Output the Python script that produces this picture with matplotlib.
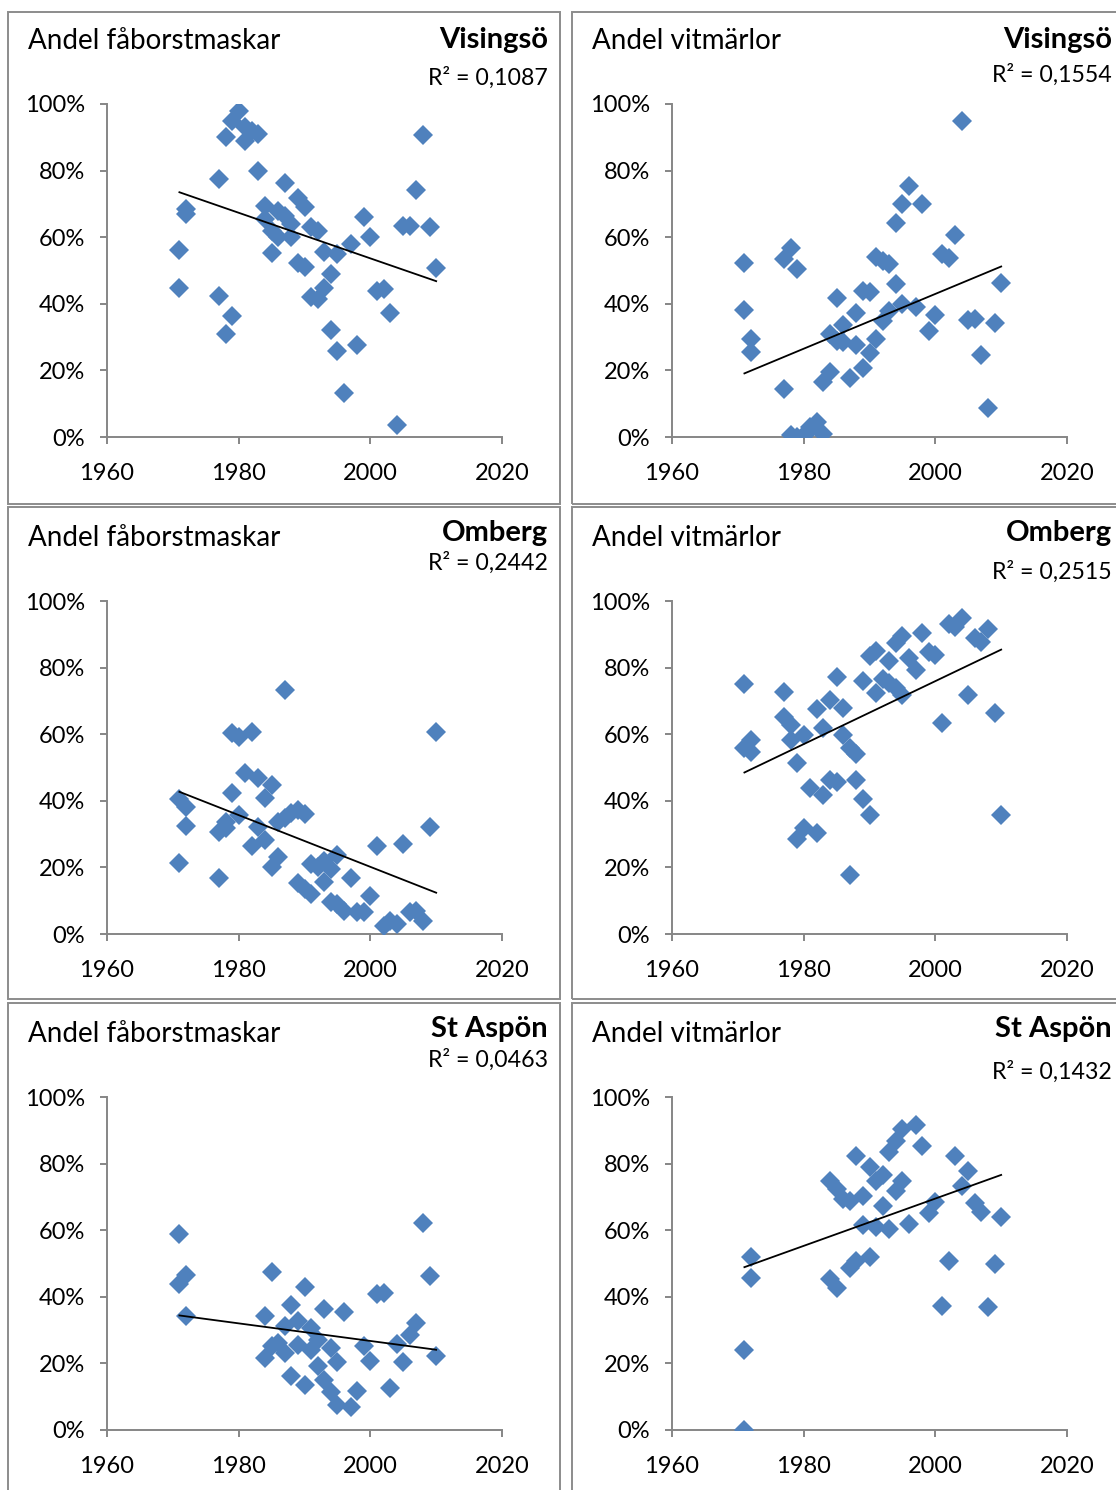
import numpy as np
import matplotlib
matplotlib.use('Agg')
import matplotlib.pyplot as plt
from matplotlib.patches import Rectangle

plt.rcParams['font.family'] = ['Lato', 'DejaVu Sans']

#%% DATOS
# Visingsö - fåborstmaskar
vis_fab_ar = [1971, 1971, 1972, 1972, 1977, 1977, 1978, 1978, 1979, 1979, 1980, 1981, 1981, 1982,
              1983, 1983, 1984, 1984, 1985, 1985, 1986, 1986, 1987, 1987, 1988, 1988, 1989, 1989,
              1990, 1990, 1991, 1991, 1992, 1992, 1993, 1993, 1994, 1994, 1995, 1995, 1996, 1997,
              1998, 1999, 2000, 2001, 2002, 2003, 2004, 2005, 2006, 2007, 2008, 2009, 2010]
vis_fab = [56.3, 44.8, 68.5, 67.0, 77.6, 42.2, 90.0, 30.9, 95.0, 36.3, 98.0, 89.0, 93.0, 92.0,
           91.0, 80.0, 69.5, 65.5, 62.0, 55.4, 68.0, 60.0, 76.2, 66.5, 64.0, 60.0, 71.8, 52.4,
           69.0, 51.0, 63.0, 42.0, 62.0, 41.3, 55.6, 44.8, 48.8, 32.2, 55.0, 25.9, 13.3, 57.9,
           27.5, 66.0, 60.2, 43.8, 44.3, 37.3, 3.5, 63.4, 63.4, 74.2, 90.8, 63.0, 50.9]

# Visingsö - vitmärlor
vis_vit_ar = [1971, 1971, 1972, 1972, 1977, 1977, 1978, 1978, 1979, 1979, 1980, 1981, 1981, 1982,
              1983, 1983, 1984, 1984, 1985, 1985, 1986, 1986, 1987, 1988, 1988, 1989, 1989, 1990,
              1990, 1991, 1991, 1992, 1992, 1993, 1993, 1994, 1994, 1995, 1995, 1996, 1997, 1998,
              1999, 2000, 2001, 2002, 2003, 2004, 2005, 2006, 2007, 2008, 2009, 2010]
vis_vit = [52.2, 38.0, 29.5, 25.5, 53.4, 14.4, 56.9, 0.5, 50.6, 0.0, 0.5, 2.0, 3.0, 4.5,
           1.0, 16.4, 30.9, 19.4, 41.8, 28.7, 33.7, 28.5, 17.8, 37.3, 27.7, 43.8, 20.8, 43.5,
           25.2, 54.2, 29.5, 52.9, 34.7, 52.0, 37.8, 64.2, 45.8, 70.0, 39.8, 75.5, 39.0, 70.0,
           31.9, 36.5, 54.9, 53.9, 60.6, 94.9, 35.2, 35.4, 24.7, 8.6, 34.2, 46.1]

# Omberg - fåborstmaskar
omb_fab_ar = [1971, 1971, 1972, 1972, 1977, 1977, 1978, 1978, 1979, 1979, 1980, 1980, 1981, 1982,
              1982, 1983, 1983, 1984, 1984, 1985, 1985, 1986, 1986, 1987, 1987, 1988, 1989, 1989,
              1990, 1990, 1991, 1991, 1992, 1993, 1993, 1994, 1994, 1995, 1995, 1996, 1997, 1998,
              1999, 2000, 2001, 2002, 2003, 2004, 2005, 2006, 2007, 2008, 2009, 2010]
omb_fab = [40.5, 21.4, 38.2, 32.4, 30.7, 16.9, 33.7, 31.7, 60.3, 42.2, 59.3, 35.7, 48.2, 60.8,
           26.4, 46.7, 32.2, 40.7, 28.1, 44.7, 20.1, 33.7, 23.1, 73.4, 34.7, 36.2, 37.2, 15.3,
           35.9, 13.6, 21.1, 12.1, 20.1, 21.8, 15.6, 19.6, 9.7, 23.8, 9.0, 7.0, 16.9, 6.5,
           6.5, 11.4, 26.4, 2.5, 4.0, 3.0, 27.1, 6.5, 7.0, 4.0, 32.2, 60.8]

# Omberg - vitmärlor
omb_vit_ar = [1971, 1971, 1972, 1972, 1977, 1977, 1978, 1978, 1979, 1979, 1980, 1980, 1981, 1982,
              1982, 1983, 1983, 1984, 1984, 1985, 1985, 1986, 1986, 1987, 1987, 1988, 1988, 1989,
              1989, 1990, 1990, 1991, 1991, 1992, 1993, 1993, 1994, 1994, 1995, 1995, 1996, 1997,
              1998, 1999, 2000, 2001, 2002, 2003, 2004, 2005, 2006, 2007, 2008, 2009, 2010]
omb_vit = [75.2, 56.0, 58.3, 54.8, 72.7, 65.3, 62.8, 58.3, 51.3, 28.6, 59.8, 31.7, 43.7, 67.6,
           30.2, 61.8, 41.7, 70.2, 46.2, 77.1, 45.7, 68.0, 59.8, 56.0, 17.8, 54.0, 46.2, 75.9,
           40.5, 83.4, 35.7, 84.9, 72.4, 76.7, 82.1, 75.4, 87.4, 73.9, 89.4, 71.9, 82.9, 79.4,
           90.5, 84.7, 83.9, 63.3, 93.2, 92.2, 94.8, 71.9, 88.9, 87.7, 91.5, 66.3, 35.7]

# St Aspön - fåborstmaskar
asp_fab_ar = [1971, 1971, 1972, 1972, 1984, 1984, 1985, 1985, 1986, 1987, 1987, 1988, 1988, 1989,
              1989, 1990, 1990, 1991, 1991, 1992, 1992, 1993, 1993, 1994, 1994, 1995, 1995, 1996,
              1997, 1998, 1999, 2000, 2001, 2002, 2003, 2004, 2005, 2006, 2007, 2008, 2009, 2010]
asp_fab = [58.8, 43.7, 46.4, 34.2, 34.2, 21.6, 47.4, 25.1, 26.1, 31.2, 23.1, 37.4, 16.1, 32.7,
           25.6, 42.9, 13.6, 30.7, 24.1, 27.1, 19.3, 36.2, 15.1, 24.6, 11.3, 20.3, 7.5, 35.4,
           6.8, 11.6, 25.1, 20.6, 40.7, 41.2, 12.6, 25.9, 20.3, 28.6, 32.0, 62.1, 46.2, 22.1]

# St Aspön - vitmärlor
asp_vit_ar = [1971, 1971, 1972, 1972, 1984, 1984, 1985, 1985, 1986, 1987, 1987, 1988, 1988, 1989,
              1989, 1990, 1990, 1991, 1991, 1992, 1992, 1993, 1993, 1994, 1994, 1995, 1995, 1996,
              1997, 1998, 1999, 2000, 2001, 2002, 2003, 2004, 2005, 2006, 2007, 2008, 2009, 2010]
asp_vit = [23.9, 0.0, 52.1, 45.5, 74.9, 45.4, 72.4, 42.7, 69.3, 68.8, 48.7, 82.4, 50.8, 70.4,
           61.5, 79.0, 52.0, 74.9, 61.0, 76.6, 67.3, 83.4, 60.3, 86.9, 71.9, 90.5, 74.7, 61.8,
           91.7, 85.4, 65.1, 68.5, 37.2, 50.7, 82.4, 73.2, 77.9, 68.3, 65.5, 37.0, 49.7, 64.0]

lokaler = ['Visingsö', 'Omberg', 'St Aspön']
grupper = ['Andel fåborstmaskar', 'Andel vitmärlor']
r2_texter = [['R² = 0,1087', 'R² = 0,1554'],
             ['R² = 0,2442', 'R² = 0,2515'],
             ['R² = 0,0463', 'R² = 0,1432']]

# linea de tendencia (valor en % al inicio 1971 y al final 2010)
tend_ar = [1971, 2010]
tend_inicio = [[73.5, 19.1], [42.7, 48.5], [34.4, 48.9]]
tend_fin = [[46.8, 51.2], [12.4, 85.4], [24.1, 76.6]]

datos = [[(vis_fab_ar, vis_fab), (vis_vit_ar, vis_vit)],
         [(omb_fab_ar, omb_fab), (omb_vit_ar, omb_vit)],
         [(asp_fab_ar, asp_fab), (asp_vit_ar, asp_vit)]]

#%% GEOMETRIA (pixeles)
W, H = 1116, 1490
col_eje = [107, 672]          # x de 1960
ancho_eje = 395
fila_top = [104, 601, 1097]   # y de 100%
alto_eje = 333
col_caja = [8, 572]
fila_caja = [12, 507, 1003]
# posiciones de textos (centro y)
y_label = [41, 538, 1034]
y_titulo = [40, 533, 1029]
y_r2 = [[78, 75], [563, 572], [1060, 1072]]

gris = '#868686'
azul = '#4F81BD'

fig = plt.figure(figsize=(W / 100, H / 100), dpi=100)


def fx(px):
    return px / W


def fy(py):
    return 1 - py / H


for i in range(3):
    for j in range(2):
        # marco del panel
        fig.patches.append(Rectangle((fx(col_caja[j]), fy(fila_caja[i] + 492)),
                                     fx(552), 492 / H, transform=fig.transFigure,
                                     fill=False, edgecolor='#8c8c8c', linewidth=1.4))

        ax = fig.add_axes([fx(col_eje[j]), fy(fila_top[i] + alto_eje), fx(ancho_eje), alto_eje / H])
        x = np.array(datos[i][j][0], dtype=float)
        y = np.array(datos[i][j][1]) / 100
        ax.plot(x, y, linestyle='none', marker='D', markersize=9.8,
                markerfacecolor=azul, markeredgewidth=0, zorder=3)

        # linea de tendencia lineal
        yt = np.array([tend_inicio[i][j], tend_fin[i][j]]) / 100
        ax.plot(tend_ar, yt, color='black', linewidth=1.3, zorder=4)

        ax.set_xlim(1960, 2020)
        ax.set_ylim(0, 1)
        ax.set_xticks([1960, 1980, 2000, 2020])
        ax.set_yticks(np.arange(0, 1.01, 0.2))
        ax.set_yticklabels([f'{int(round(v * 100))}%' for v in np.arange(0, 1.01, 0.2)])
        for s in ['top', 'right']:
            ax.spines[s].set_visible(False)
        for s in ['left', 'bottom']:
            ax.spines[s].set_color(gris)
            ax.spines[s].set_linewidth(1.4)
        ax.tick_params(direction='out', length=5, width=1.4, color=gris,
                       labelsize=17, labelcolor='black')
        ax.tick_params(axis='x', pad=13.5)
        ax.tick_params(axis='y', pad=11)
        ax.patch.set_alpha(0)

        # textos
        fig.text(fx(col_caja[j] + 20), fy(y_label[i]), grupper[j], fontsize=20,
                 ha='left', va='center')
        fig.text(fx(col_caja[j] + 540), fy(y_titulo[i]), lokaler[i], fontsize=21,
                 fontweight='bold', ha='right', va='center')
        fig.text(fx(col_caja[j] + 540), fy(y_r2[i][j]), r2_texter[i][j], fontsize=16.7,
                 ha='right', va='center')

fig.savefig('out.png', dpi=100)
